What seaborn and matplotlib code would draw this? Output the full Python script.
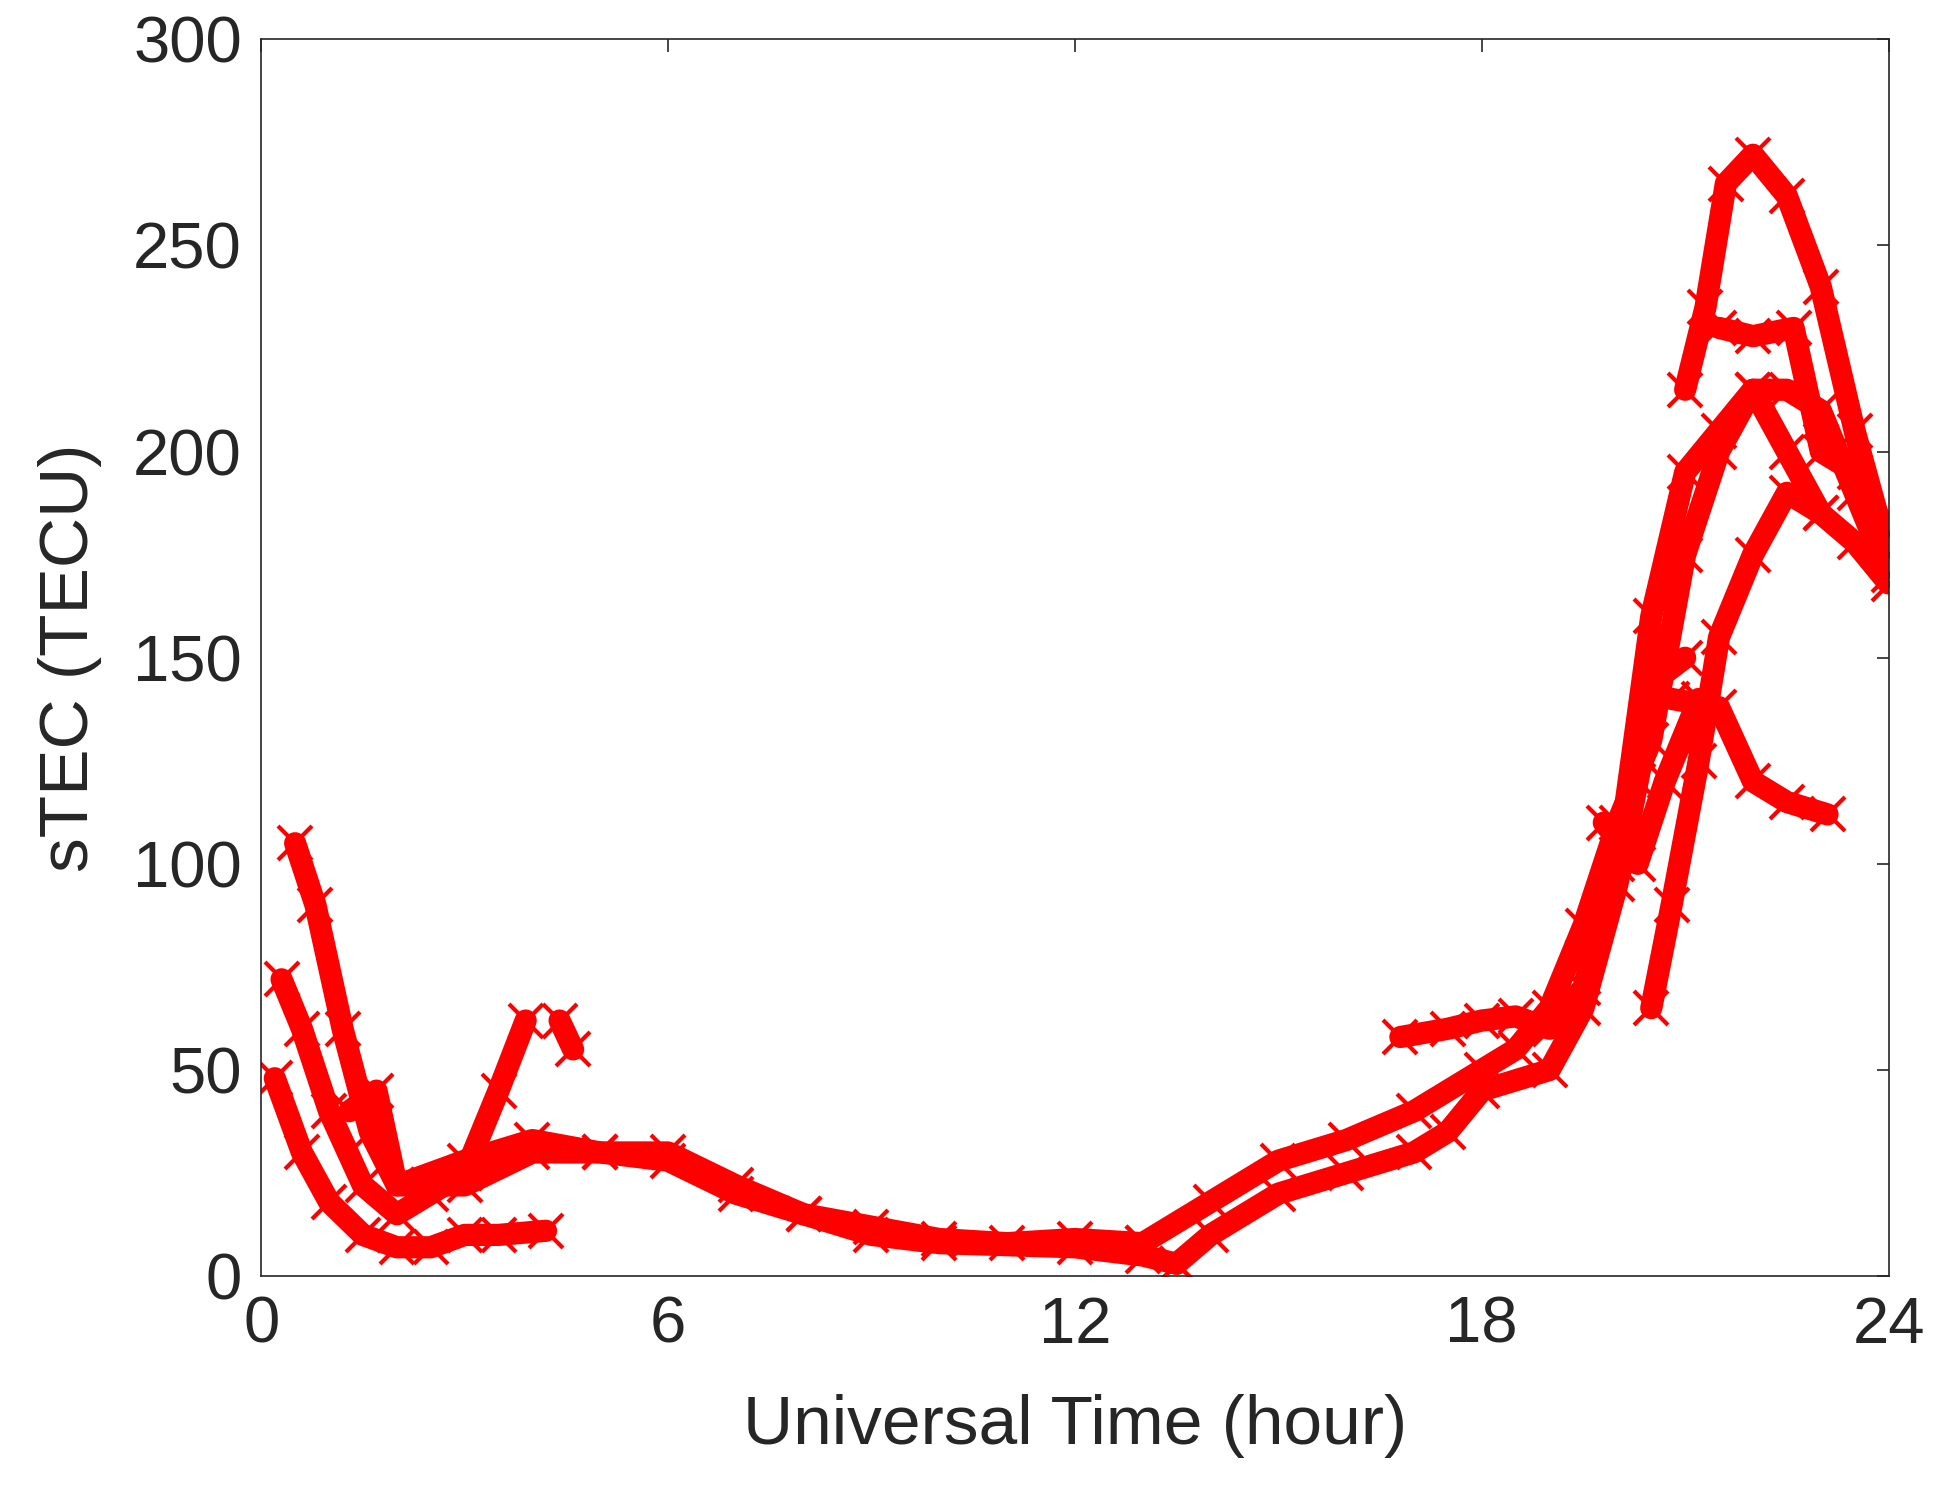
import pandas as pd
import matplotlib
matplotlib.use("Agg")
import matplotlib.pyplot as plt
import seaborn as sns

# satellite tracks: (UT hour, sTEC)
track_hours = {
    "T1": [0.3, 0.6, 1.0, 1.5, 2.0, 2.5, 3.0, 3.5, 3.9],
    "T2": [0.5, 0.8, 1.2, 1.6, 2.0, 3.0, 4.0, 5.0, 6.0, 7.0, 8.0, 9.0, 10.0, 12.0, 13.0, 13.5],
    "T3": [0.2, 0.6, 1.0, 1.5, 2.0, 2.5, 3.0, 3.5, 4.2],
    "T4": [1.3, 1.7, 2.0, 3.0, 4.0, 5.0, 6.0, 7.0, 8.0, 9.0, 10.0, 11.0, 12.0, 13.0],
    "T5": [4.4, 4.6],
    "T6": [13.5, 14.0, 15.0, 16.0, 17.0, 17.5, 18.0, 19.0, 19.5, 20.0, 20.3, 20.6, 21.0],
    "T7": [13.0, 14.0, 15.0, 16.0, 17.0, 18.0, 18.5, 19.0, 19.5, 20.0, 20.5, 21.0, 21.5, 22.0, 22.5, 23.0, 23.5, 24.0],
    "T8": [16.8, 17.5, 18.0, 18.5, 19.0, 19.5, 20.0, 20.5, 21.0, 21.5, 22.0, 22.5, 23.0, 23.5, 24.0],
    "T9": [20.5, 20.8, 21.2, 21.5, 22.0, 22.5, 23.0],
    "T10": [21.0, 21.3, 21.6, 22.0, 22.5, 23.0, 23.5, 24.0],
    "T11": [20.8, 21.5, 22.0, 22.5, 23.1],
    "T12": [21.5, 22.0, 22.6, 23.0, 23.5, 24.0],
    "T13": [19.8, 20.3, 20.7, 21.2],
}
track_tec = {
    "T1": [72, 60, 40, 22, 15, 20, 25, 45, 62],
    "T2": [105, 90, 60, 35, 22, 22, 30, 30, 28, 20, 15, 10, 8, 7, 5, 3],
    "T3": [48, 30, 18, 10, 7, 7, 10, 10, 11],
    "T4": [40, 45, 22, 28, 33, 30, 30, 22, 15, 12, 9, 8, 9, 8],
    "T5": [62, 55],
    "T6": [3, 10, 20, 25, 30, 35, 45, 50, 65, 95, 120, 145, 150],
    "T7": [8, 18, 28, 33, 40, 50, 55, 65, 85, 110, 130, 175, 200, 215, 215, 210, 190, 170],
    "T8": [58, 60, 62, 63, 60, 70, 100, 160, 195, 205, 215, 200, 185, 178, 168],
    "T9": [65, 90, 125, 155, 175, 190, 185],
    "T10": [215, 235, 265, 272, 262, 240, 205, 175],
    "T11": [140, 138, 120, 115, 112],
    "T12": [230, 228, 230, 200, 195, 180],
    "T13": [110, 100, 120, 140],
}
x_ticks = [0, 6, 12, 18, 24]
y_ticks = [0, 50, 100, 150, 200, 250, 300]

rows = []
for name in track_hours:
    for h, v in zip(track_hours[name], track_tec[name]):
        rows.append({"track": name, "hour": h, "stec": v})
df = pd.DataFrame(rows)

sns.set_style("white")
plt.rcParams["font.family"] = ["Liberation Sans", "DejaVu Sans"]
text_color = "#262626"

fig = plt.figure(figsize=(19.35, 15.12), dpi=100)
ax = fig.add_axes([0.135, 0.156, 0.841, 0.818])

sns.lineplot(data=df, x="hour", y="stec", units="track", estimator=None,
             sort=False, color="red", linewidth=16, marker="x",
             markersize=24, markeredgewidth=3, markeredgecolor="red",
             ax=ax, legend=False)

ax.set_xlim(0, 24)
ax.set_ylim(0, 300)
ax.set_xticks(x_ticks)
ax.set_yticks(y_ticks)
ax.tick_params(direction="in", length=9, width=1.2, labelsize=47,
               colors=text_color, top=True, right=True, pad=14)
for s in ax.spines.values():
    s.set_color(text_color)
    s.set_linewidth(1.2)
ax.set_xlabel("Universal Time (hour)", fontsize=50, color=text_color, labelpad=28)
ax.set_ylabel("sTEC (TECU)", fontsize=50, color=text_color, labelpad=22)

fig.savefig("out.png", dpi=100)
